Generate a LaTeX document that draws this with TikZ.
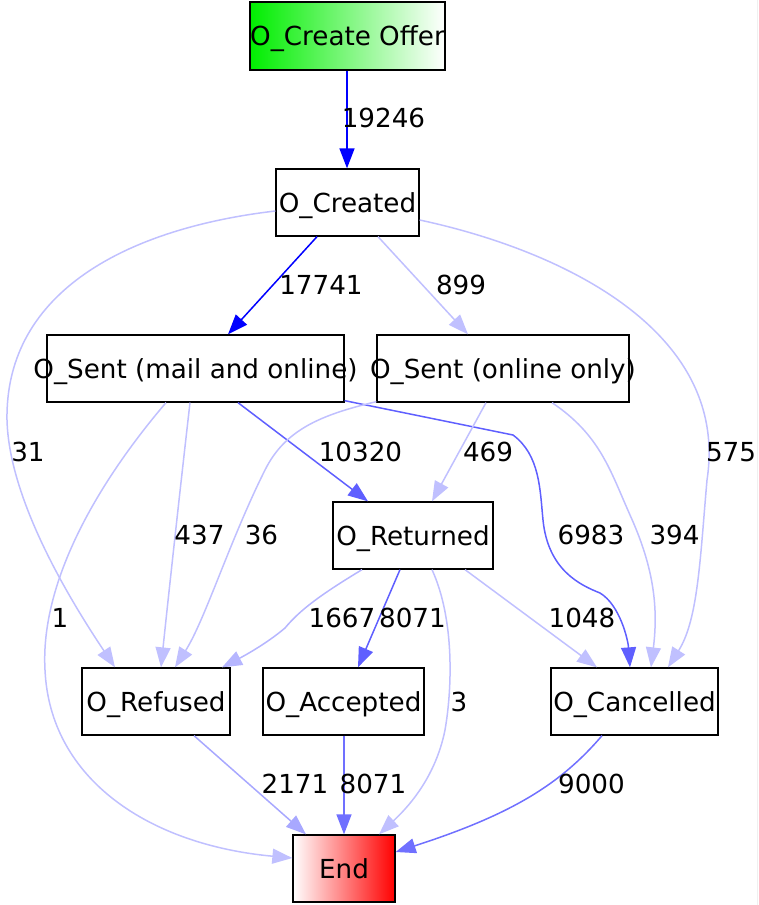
\documentclass[tikz,border=0pt]{standalone}
\usepackage{fontspec}
\setmainfont{DejaVu Sans}
\usetikzlibrary{arrows.meta}
\definecolor{eA}{RGB}{0,0,255}
\definecolor{eB}{RGB}{95,95,255}
\definecolor{eC}{RGB}{112,112,255}
\definecolor{eD}{RGB}{168,168,255}
\definecolor{eE}{RGB}{182,182,255}
\definecolor{eF}{RGB}{192,192,255}
\definecolor{startgreen}{RGB}{0,238,0}
\begin{document}
\begin{tikzpicture}[x=1pt,y=-1pt,
  box/.style={draw=black,line width=1.3pt,inner sep=0pt,minimum height=67pt},
  txt/.style={font=\fontsize{26.2}{30}\selectfont,inner sep=0pt,text height=19.1pt,text depth=0pt},
  edge/.style={line width=1.5pt,-{Triangle[length=20pt,width=15pt]}},
]
\useasboundingbox (0,0) rectangle (758,905);
\draw[gray!12,line width=1pt] (757,0) -- (757,905);

% boxes
\node[box,minimum width=195pt,minimum height=68pt,left color=startgreen,right color=white] (offer) at (347.5,36) {};
\node[box,minimum width=143pt] (created) at (347.5,202.5) {};
\node[box,minimum width=297pt] (sm) at (195.5,368.5) {};
\node[box,minimum width=252pt] (so) at (503,368.5) {};
\node[box,minimum width=160pt] (ret) at (413,535.5) {};
\node[box,minimum width=148pt] (ref) at (156,701.5) {};
\node[box,minimum width=161pt] (acc) at (343.5,701.5) {};
\node[box,minimum width=167pt] (can) at (634.5,701.5) {};
\node[box,minimum width=102pt,left color=white,right color=red] (end) at (344,868.5) {};

% box texts
\node[txt] (toffer) at (offer) {O\_Create Offer};
\node[txt] (tcreated) at (created) {O\_Created};
\node[txt] (tsm) at (sm) {O\_Sent (mail and online)};
\node[txt] (tso) at (so) {O\_Sent (online only)};
\node[txt] (tret) at (ret) {O\_Returned};
\node[txt] (tref) at (ref) {O\_Refused};
\node[txt] (tacc) at (acc) {O\_Accepted};
\node[txt] (tcan) at (can) {O\_Cancelled};
\node[txt] (tend) at (end) {End};

% edges
\draw[edge,eA] ([xshift=-0.5pt]offer.south) -- ([xshift=-0.5pt]created.north);
\draw[edge,eA] ([xshift=-30.5pt]created.south) -- ([xshift=32.5pt]sm.north);
\draw[edge,eF] ([xshift=30.5pt]created.south) -- ([xshift=-35pt]so.north);
\draw[edge,eF] ([yshift=-8.5pt]created.west) .. controls (130,228) and (5,290) .. (7,420) .. controls (9,500) and (70,600) .. ([xshift=-41pt]ref.north);
\draw[edge,eF] ([yshift=-17.5pt]created.east) .. controls (560,250) and (730,330) .. (707,480) .. controls (700,560) and (698,620) .. ([xshift=33.5pt]can.north);
\draw[edge,eB] ([xshift=42.5pt]sm.south) -- ([xshift=-45pt]ret.north);
\draw[edge,eB] ([yshift=2pt]sm.south east) -- (513,435) .. controls (540,455) and (540,490) .. (543,520) .. controls (548,570) and (580,585) .. (600,593) .. controls (620,605) and (628,640) .. ([xshift=-4.5pt]can.north);
\draw[edge,eF] ([xshift=-5.5pt]sm.south) .. controls (180,490) and (168,600) .. ([xshift=5pt]ref.north);
\draw[edge,eF] ([xshift=-29.5pt]sm.south) .. controls (100,480) and (40,580) .. (45,670) .. controls (50,780) and (150,845) .. ([yshift=10.5pt]end.west);
\draw[edge,eF] ([yshift=1pt]so.south west) .. controls (320,415) and (285,430) .. (265,470) .. controls (230,540) and (205,620) .. ([xshift=19pt]ref.north);
\draw[edge,eF] ([xshift=-17pt]so.south) -- ([xshift=19pt]ret.north);
\draw[edge,eF] ([xshift=49pt]so.south) .. controls (600,435) and (610,470) .. (630,515) .. controls (655,570) and (658,610) .. ([xshift=16.5pt]can.north);
\draw[edge,eE] ([xshift=-51pt]ret.south) .. controls (320,595) and (300,610) .. (285,628) .. controls (265,645) and (240,658) .. ([xshift=66pt]ref.north);
\draw[edge,eB] ([xshift=-13pt]ret.south) -- ([xshift=14.5pt]acc.north);
\draw[edge,eF] ([xshift=19pt]ret.south) .. controls (455,620) and (452,690) .. (445,730) .. controls (435,780) and (405,810) .. ([xshift=35pt]end.north);
\draw[edge,eF] ([xshift=52pt]ret.south) -- ([xshift=-37.5pt]can.north);
\draw[edge,eD] ([xshift=38pt]ref.south) -- ([xshift=-38pt]end.north);
\draw[edge,eC] ([xshift=0.5pt]acc.south) -- (end.north);
\draw[edge,eC] ([xshift=-32.5pt]can.south) .. controls (560,785) and (510,815) .. ([yshift=16.5pt]end.east);

% edge labels
\node[txt] (l1) at (383.5,118) {19246};
\node[txt] (l2) at (321,284.5) {17741};
\node[txt] (l3) at (461,284.5) {899};
\node[txt] (l4) at (28,451.5) {31};
\node[txt] (l5) at (731,451.5) {575};
\node[txt] (l6) at (360.5,451.5) {10320};
\node[txt] (l7) at (591,534.5) {6983};
\node[txt] (l8) at (199.5,534.5) {437};
\node[txt] (l9) at (60,617.5) {1};
\node[txt] (l10) at (261.5,534.5) {36};
\node[txt] (l11) at (488,451.5) {469};
\node[txt] (l12) at (674.5,534.5) {394};
\node[txt] (l13) at (342,617.5) {1667};
\node[txt] (l14) at (412.5,617.5) {8071};
\node[txt] (l15) at (459,701.5) {3};
\node[txt] (l16) at (582,617.5) {1048};
\node[txt] (l17) at (295,784) {2171};
\node[txt] (l18) at (373,784) {8071};
\node[txt] (l19) at (591.5,784) {9000};
\end{tikzpicture}
\end{document}
